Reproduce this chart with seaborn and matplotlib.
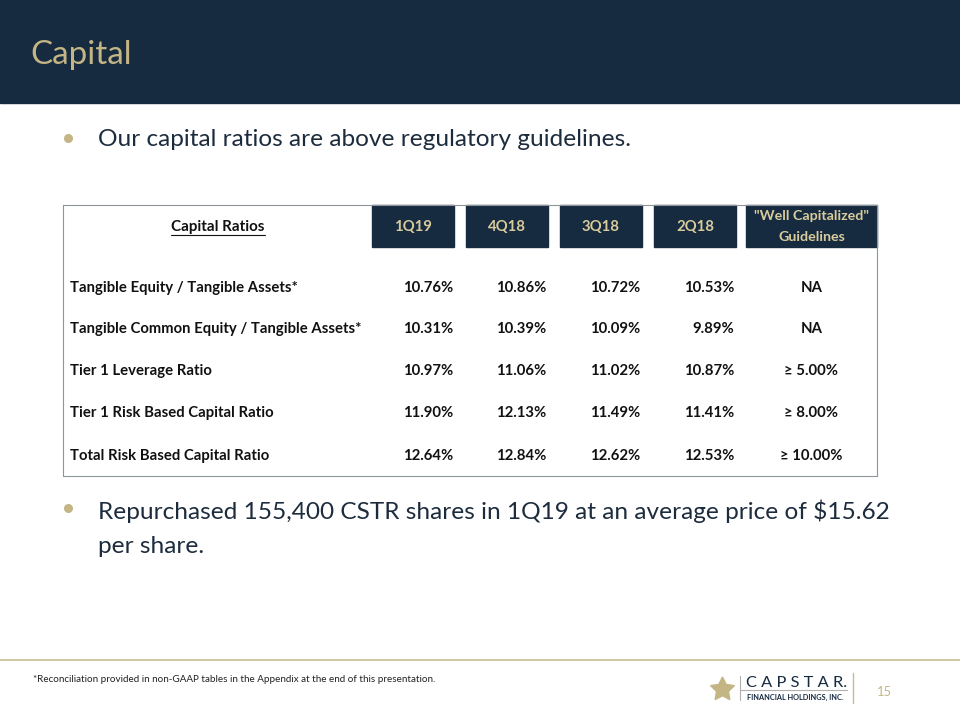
import matplotlib
matplotlib.use("Agg")
import matplotlib.pyplot as plt
import seaborn as sns
import pandas as pd
from matplotlib.patches import Rectangle

sns.set_theme(style="white")
plt.rcParams['font.family'] = ['Lato', 'DejaVu Sans']

# ---- data ----
row_labels = ["Tangible Equity / Tangible Assets*",
              "Tangible Common Equity / Tangible Assets*",
              "Tier 1 Leverage Ratio",
              "Tier 1 Risk Based Capital Ratio",
              "Total Risk Based Capital Ratio"]
periods = ["1Q19", "4Q18", "3Q18", "2Q18"]
q1_19 = [10.76, 10.31, 10.97, 11.90, 12.64]
q4_18 = [10.86, 10.39, 11.06, 12.13, 12.84]
q3_18 = [10.72, 10.09, 11.02, 11.49, 12.62]
q2_18 = [10.53, 9.89, 10.87, 11.41, 12.53]
guidelines = ["NA", "NA", "≥ 5.00%", "≥ 8.00%", "≥ 10.00%"]

table = pd.DataFrame({"1Q19": q1_19, "4Q18": q4_18, "3Q18": q3_18, "2Q18": q2_18},
                     index=row_labels)

NAVY = "#162a40"
GOLD = "#c4b584"
HDR_TXT = "#d9cc9c"
TXT = "#1d2c3d"

fig = plt.figure(figsize=(9.6, 7.2), dpi=100)
ax = fig.add_axes([0, 0, 1, 1])
ax.set_xlim(0, 960)
ax.set_ylim(720, 0)
ax.axis("off")

fits = []
def txt(x, y, s, width=None, **kw):
    t = ax.text(x, y, s, **kw)
    if width is not None:
        fits.append((t, width))
    return t

# header band
ax.add_patch(Rectangle((0, 0), 960, 103, color=NAVY, zorder=0))
txt(30, 64, "Capital", width=101, fontsize=26, color=GOLD, va="baseline", ha="left")

# bullets
ax.plot([68], [138], marker="o", ms=5.5, color=GOLD, ls="none")
b1 = txt(98, 146, "Our capital ratios are above regulatory guidelines.", width=538,
         fontsize=18, color=TXT, va="baseline")
ax.plot([68], [508], marker="o", ms=5.5, color=GOLD, ls="none")
b2 = txt(98, 519, "Repurchased 155,400 CSTR shares in 1Q19 at an average price of $15.62",
         width=780, fontsize=18, color=TXT, va="baseline")
t_per = txt(98, 553, "per share.", fontsize=18, color=TXT, va="baseline")

# table frame
FR = "#8f949a"
ax.plot([63, 877], [205, 205], color=FR, lw=0.8)
ax.plot([63, 63], [205, 476], color=FR, lw=0.8)
ax.plot([877, 877], [205, 476], color=FR, lw=0.8)
ax.plot([63, 877], [476, 476], color=FR, lw=0.8)

box_x = [(372, 454), (466, 548), (560, 642), (654, 736)]
for (x0, x1), p in zip(box_x, periods):
    ax.add_patch(Rectangle((x0, 205), x1 - x0, 42, color=NAVY, zorder=1))
    txt((x0 + x1) / 2, 227, p, fontsize=9.5, fontweight="bold", color=HDR_TXT,
        ha="center", va="center", zorder=2)
ax.add_patch(Rectangle((746, 205), 131, 42, color=NAVY, zorder=1))
txt(811.5, 216, "\"Well Capitalized\"", width=116, fontsize=9.5, fontweight="bold",
    color=HDR_TXT, ha="center", va="center", zorder=2)
g_t = txt(811.5, 237, "Guidelines", fontsize=9.5, fontweight="bold",
          color=HDR_TXT, ha="center", va="center", zorder=2)

cr = txt(218, 227, "Capital Ratios", width=94, fontsize=9.5, fontweight="bold",
         color="#111111", ha="center", va="center")

row_y = [288, 329, 371, 413, 456]
right_x = [453, 546, 640, 734]
label_texts = []
for i, lab in enumerate(row_labels):
    t = txt(70, row_y[i], lab, fontsize=9.5, fontweight="bold", color="#111111",
            ha="left", va="center")
    label_texts.append(t)
    for j, p in enumerate(periods):
        txt(right_x[j], row_y[i], f"{table.loc[lab, p]:.2f}%", fontsize=9.5,
            fontweight="bold", color="#111111", ha="right", va="center")
    txt(811.5, row_y[i], guidelines[i], fontsize=9.5, fontweight="bold",
        color="#111111", ha="center", va="center")

# footer
ax.plot([0, 960], [660, 660], color="#c9bc94", lw=1.2)
txt(33, 680, "*Reconciliation provided in non-GAAP tables in the Appendix at the end of this presentation.",
    width=404, fontsize=6, color="#222222", ha="left", va="center")
ax.plot([722], [689], marker=(5, 1, 0), ms=18, color=GOLD, ls="none")
ax.plot([740, 740], [676, 700], color="#b0b0b0", lw=0.8)
ax.plot([740, 847], [690, 690], color="#b0b0b0", lw=0.8)
txt(746, 683, "C A P S T A R.", width=100, fontsize=12, color=NAVY, ha="left", va="center")
txt(747, 697, "FINANCIAL HOLDINGS, INC.", width=97, fontsize=4, fontweight="bold",
    color=NAVY, ha="left", va="center")
ax.plot([853, 853], [673, 703], color="#c9bc94", lw=1.0)
txt(877, 692, "15", width=15, fontsize=11, color=GOLD, ha="left", va="center")

# fit widths
fig.canvas.draw()
r = fig.canvas.get_renderer()
for t, w in fits:
    cur = t.get_window_extent(r).width
    t.set_fontsize(t.get_fontsize() * w / cur)
fig.canvas.draw()

# shared body size (compromise between both bullets)
body_fs = (b1.get_fontsize() + b2.get_fontsize()) / 2
b1.set_fontsize(body_fs)
b2.set_fontsize(body_fs)
t_per.set_fontsize(body_fs)
# table size fitted to longest row label width
lw = label_texts[1].get_window_extent(r).width
tbl_fs = 9.5 * 292 / lw
for t in ax.texts:
    if t.get_fontsize() == 9.5:
        t.set_fontsize(tbl_fs)
g_t.set_fontsize(fits[3][0].get_fontsize())

# underline for "Capital Ratios"
fig.canvas.draw()
bb = cr.get_window_extent(r)
inv = ax.transData.inverted()
(x0, y0), (x1, y1) = inv.transform([[bb.x0, bb.y0], [bb.x1, bb.y1]])
ax.plot([x0, x1], [max(y0, y1) + 1.0] * 2, color="#111111", lw=0.8)

fig.savefig("out.png", dpi=100)
